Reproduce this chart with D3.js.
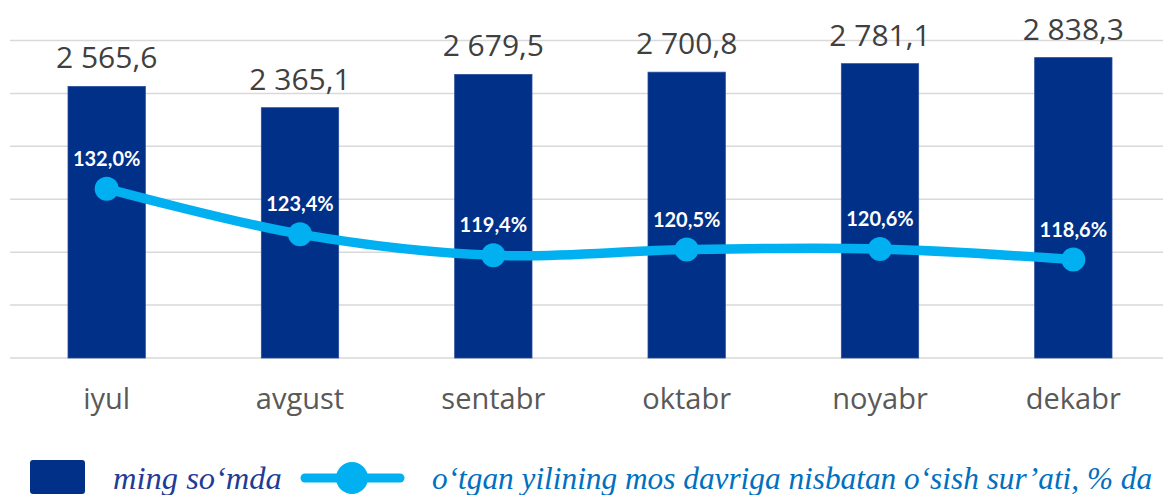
<!DOCTYPE html>
<html lang="uz">
  <head>
    <meta charset="utf-8" />
    <title>ming so‘mda</title>
    <style>
      body { margin: 0; background: #fff; }
    </style>
  </head>
  <body>
    <script src="https://d3js.org/d3.v7.min.js"></script>
    <div id="chart"></div>
    <script>
      // data
      const months = ["iyul", "avgust", "sentabr", "oktabr", "noyabr", "dekabr"];
      const amounts = [2565.6, 2365.1, 2679.5, 2700.8, 2781.1, 2838.3];
      const growth = [132.0, 123.4, 119.4, 120.5, 120.6, 118.6];
      const gridValues = [0, 500, 1000, 1500, 2000, 2500, 3000];
      const legendLabels = ["ming so‘mda", "o‘tgan yilining mos davriga nisbatan o‘sish sur’ati, % da"];

      const W = 1163, H = 495;
      const fmt = v => {
        const [i, d] = v.toFixed(1).split(".");
        return i.replace(/\B(?=(\d{3})+(?!\d))/g, " ") + "," + d;
      };

      const svg = d3.select("#chart").append("svg")
        .attr("width", W).attr("height", H);

      const x = d3.scaleBand().domain(months).range([10, 1170]);
      const y = d3.scaleLinear().domain([0, 3000]).range([358, 40.5]);
      const y2 = d3.scaleLinear().domain([100, 160]).range([358, 40.5]);
      const barW = x.bandwidth() * 0.4;
      const cx = m => x(m) + x.bandwidth() / 2;

      // gridlines
      svg.append("g").selectAll("line").data(gridValues).join("line")
        .attr("x1", 10).attr("x2", W)
        .attr("y1", d => y(d)).attr("y2", d => y(d))
        .attr("stroke", "#d9d9d9").attr("stroke-width", 1.5);

      // bars
      svg.append("g").selectAll("rect").data(months).join("rect")
        .attr("x", (d) => cx(d) - barW / 2)
        .attr("width", barW)
        .attr("y", (d, i) => y(amounts[i]))
        .attr("height", (d, i) => y(0) - y(amounts[i]))
        .attr("fill", "#003087")
        .attr("stroke", "#2b4d9c").attr("stroke-width", 0.8);

      // bar value labels
      svg.append("g").selectAll("text").data(months).join("text")
        .attr("x", d => cx(d))
        .attr("y", (d, i) => y(amounts[i]) - 18)
        .attr("text-anchor", "middle")
        .attr("font-family", "'Open Sans', sans-serif")
        .attr("font-size", 30)
        .attr("fill", "#404040")
        .text((d, i) => fmt(amounts[i]));

      // category labels
      svg.append("g").selectAll("text").data(months).join("text")
        .attr("x", d => cx(d))
        .attr("y", 409)
        .attr("text-anchor", "middle")
        .attr("font-family", "'Open Sans', sans-serif")
        .attr("font-size", 29)
        .attr("fill", "#595959")
        .text(d => d);

      // growth line
      const line = d3.line()
        .x((d, i) => cx(months[i]))
        .y(d => y2(d))
        .curve(d3.curveCatmullRom.alpha(0.5));

      svg.append("path").datum(growth)
        .attr("d", line)
        .attr("fill", "none")
        .attr("stroke", "#00b0f0")
        .attr("stroke-width", 9.5)
        .attr("stroke-linecap", "round");

      svg.append("g").selectAll("circle").data(growth).join("circle")
        .attr("cx", (d, i) => cx(months[i]))
        .attr("cy", d => y2(d))
        .attr("r", 12)
        .attr("fill", "#00b0f0");

      svg.append("g").selectAll("text").data(growth).join("text")
        .attr("x", (d, i) => cx(months[i]))
        .attr("y", d => y2(d) - 23)
        .attr("text-anchor", "middle")
        .attr("font-family", "Lato, sans-serif")
        .attr("font-weight", "bold")
        .attr("font-size", 20)
        .attr("fill", "#ffffff")
        .text(d => d.toFixed(1).replace(".", ",") + "%");

      // legend
      const lg = svg.append("g");
      lg.append("rect")
        .attr("x", 30).attr("y", 460).attr("width", 55).attr("height", 34)
        .attr("rx", 3).attr("fill", "#003087");
      lg.append("text")
        .attr("x", 113).attr("y", 489)
        .attr("font-family", "'Liberation Serif', serif")
        .attr("font-style", "italic")
        .attr("font-size", 32.5)
        .attr("fill", "#1f3c96")
        .text(legendLabels[0]);
      lg.append("line")
        .attr("x1", 305).attr("x2", 400).attr("y1", 478).attr("y2", 478)
        .attr("stroke", "#00b0f0").attr("stroke-width", 9)
        .attr("stroke-linecap", "round");
      lg.append("circle")
        .attr("cx", 352).attr("cy", 478).attr("r", 16)
        .attr("fill", "#00b0f0");
      lg.append("text")
        .attr("x", 432).attr("y", 489)
        .attr("font-family", "'Liberation Serif', serif")
        .attr("font-style", "italic")
        .attr("font-size", 31.3)
        .attr("fill", "#0070c0")
        .text(legendLabels[1]);
    </script>
  </body>
</html>
